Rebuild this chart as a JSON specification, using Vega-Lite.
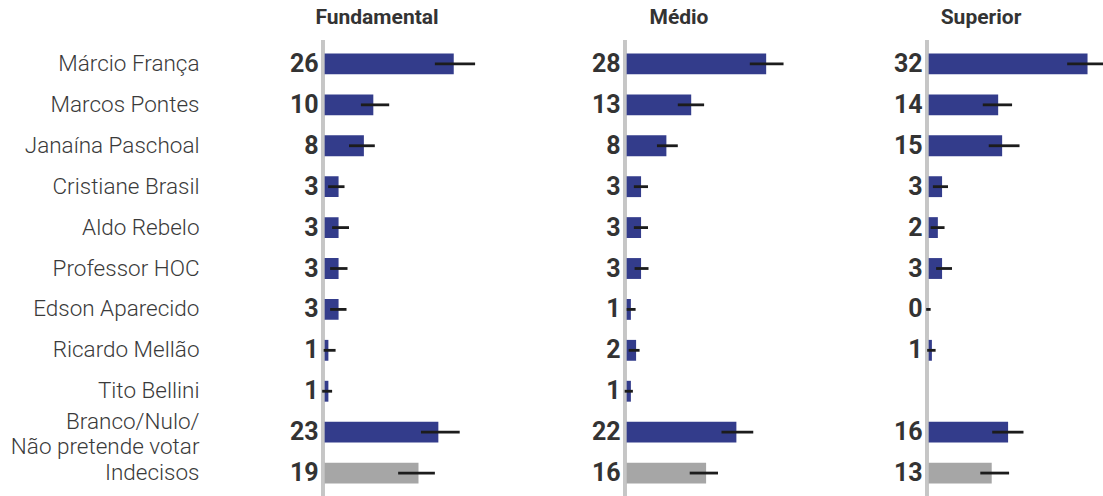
{
  "$schema": "https://vega.github.io/schema/vega-lite/v6.json",
  "padding": {"left": 10, "top": 6, "right": 0, "bottom": 0},
  "background": "white",
  "config": {"view": {"stroke": null}, "font": "Roboto"},
  "spacing": 22,
  "data": {"values": [
    {"nivel": "Fundamental", "cand": "Márcio França", "tipo": "cand", "v": 26.0, "lo": 22.2, "hi": 30.3},
    {"nivel": "Fundamental", "cand": "Marcos Pontes", "tipo": "cand", "v": 9.8, "lo": 7.3, "hi": 13.0},
    {"nivel": "Fundamental", "cand": "Janaína Paschoal", "tipo": "cand", "v": 7.9, "lo": 4.9, "hi": 10.1},
    {"nivel": "Fundamental", "cand": "Cristiane Brasil", "tipo": "cand", "v": 2.8, "lo": 0.7, "hi": 4.0},
    {"nivel": "Fundamental", "cand": "Aldo Rebelo", "tipo": "cand", "v": 2.8, "lo": 1.5, "hi": 4.9},
    {"nivel": "Fundamental", "cand": "Professor HOC", "tipo": "cand", "v": 2.8, "lo": 1.1, "hi": 4.6},
    {"nivel": "Fundamental", "cand": "Edson Aparecido", "tipo": "cand", "v": 2.8, "lo": 1.1, "hi": 4.4},
    {"nivel": "Fundamental", "cand": "Ricardo Mellão", "tipo": "cand", "v": 0.75, "lo": -0.2, "hi": 2.2},
    {"nivel": "Fundamental", "cand": "Tito Bellini", "tipo": "cand", "v": 0.75, "lo": -0.5, "hi": 1.5},
    {"nivel": "Fundamental", "cand": "Branco/Nulo/ Não pretende votar", "tipo": "cand", "v": 22.9, "lo": 19.4, "hi": 27.2},
    {"nivel": "Fundamental", "cand": "Indecisos", "tipo": "indec", "v": 18.9, "lo": 14.8, "hi": 22.2},
    {"nivel": "Médio", "cand": "Márcio França", "tipo": "cand", "v": 28.1, "lo": 24.8, "hi": 31.6},
    {"nivel": "Médio", "cand": "Marcos Pontes", "tipo": "cand", "v": 13.0, "lo": 10.3, "hi": 15.6},
    {"nivel": "Médio", "cand": "Janaína Paschoal", "tipo": "cand", "v": 8.0, "lo": 6.1, "hi": 10.3},
    {"nivel": "Médio", "cand": "Cristiane Brasil", "tipo": "cand", "v": 2.9, "lo": 1.45, "hi": 4.3},
    {"nivel": "Médio", "cand": "Aldo Rebelo", "tipo": "cand", "v": 2.9, "lo": 1.45, "hi": 4.3},
    {"nivel": "Médio", "cand": "Professor HOC", "tipo": "cand", "v": 2.9, "lo": 1.6, "hi": 4.4},
    {"nivel": "Médio", "cand": "Edson Aparecido", "tipo": "cand", "v": 0.85, "lo": 0.0, "hi": 1.8},
    {"nivel": "Médio", "cand": "Ricardo Mellão", "tipo": "cand", "v": 1.9, "lo": 0.4, "hi": 2.6},
    {"nivel": "Médio", "cand": "Tito Bellini", "tipo": "cand", "v": 0.85, "lo": -0.4, "hi": 1.25},
    {"nivel": "Médio", "cand": "Branco/Nulo/ Não pretende votar", "tipo": "cand", "v": 22.1, "lo": 19.1, "hi": 25.5},
    {"nivel": "Médio", "cand": "Indecisos", "tipo": "indec", "v": 16.0, "lo": 12.7, "hi": 18.4},
    {"nivel": "Superior", "cand": "Márcio França", "tipo": "cand", "v": 32.0, "lo": 27.9, "hi": 36.0},
    {"nivel": "Superior", "cand": "Marcos Pontes", "tipo": "cand", "v": 14.0, "lo": 10.9, "hi": 16.8},
    {"nivel": "Superior", "cand": "Janaína Paschoal", "tipo": "cand", "v": 14.8, "lo": 12.1, "hi": 18.3},
    {"nivel": "Superior", "cand": "Cristiane Brasil", "tipo": "cand", "v": 2.7, "lo": 0.85, "hi": 3.9},
    {"nivel": "Superior", "cand": "Aldo Rebelo", "tipo": "cand", "v": 1.85, "lo": 0.4, "hi": 3.2},
    {"nivel": "Superior", "cand": "Professor HOC", "tipo": "cand", "v": 2.7, "lo": 1.5, "hi": 4.7},
    {"nivel": "Superior", "cand": "Edson Aparecido", "tipo": "cand", "v": 0.0, "lo": -0.5, "hi": 0.4},
    {"nivel": "Superior", "cand": "Ricardo Mellão", "tipo": "cand", "v": 0.65, "lo": -0.3, "hi": 1.4},
    {"nivel": "Superior", "cand": "Branco/Nulo/ Não pretende votar", "tipo": "cand", "v": 16.0, "lo": 12.8, "hi": 19.1},
    {"nivel": "Superior", "cand": "Indecisos", "tipo": "indec", "v": 12.7, "lo": 10.4, "hi": 16.2}
  ]},
  "hconcat": [
    {
      "title": {"text": "Fundamental", "anchor": "middle", "dx": -41, "fontSize": 21, "font": "Roboto", "fontWeight": "bold", "color": "#333333", "offset": -6, "baseline": "alphabetic"},
      "width": 280, "height": 457,
      "transform": [{"filter": "datum.nivel == 'Fundamental'"}],
      "layer": [
        {"mark": {"type": "rule", "color": "#c6c6c6", "strokeWidth": 3},
         "encoding": {"x": {"datum": -0.35, "type": "quantitative", "scale": {"domain": [-9.4, 47], "nice": false, "zero": false}, "axis": null}}},
        {"mark": {"type": "bar"},
         "encoding": {
           "y": {"field": "cand", "type": "nominal", "scale": {"domain": ["Márcio França", "Marcos Pontes", "Janaína Paschoal", "Cristiane Brasil", "Aldo Rebelo", "Professor HOC", "Edson Aparecido", "Ricardo Mellão", "Tito Bellini", "Branco/Nulo/ Não pretende votar", "Indecisos"], "paddingInner": 0.49, "paddingOuter": 0.33},
                 "axis": {"title": null, "ticks": false, "domain": false, "labelPadding": 79, "labelFont": "Roboto", "labelFontSize": 22.5, "labelFontWeight": 300, "labelColor": "#3a3a3a", "labelLineHeight": 25, "labelLimit": 400,
                          "labelOffset": {"condition": {"test": "datum.value == 'Branco/Nulo/ Não pretende votar'", "value": -10}, "value": 0},
                          "labelExpr": "datum.value == 'Branco/Nulo/ Não pretende votar' ? ['Branco/Nulo/', 'Não pretende votar'] : datum.value"}},
           "x": {"field": "v", "type": "quantitative", "scale": {"domain": [-9.4, 47], "nice": false, "zero": false}, "axis": null},
           "x2": {"datum": 0},
           "color": {"field": "tipo", "type": "nominal", "scale": {"domain": ["cand", "indec"], "range": ["#333c8b", "#a6a6a6"]}, "legend": null}
         }},
        {"mark": {"type": "rule", "color": "#1c1c1c", "strokeWidth": 2.8},
         "encoding": {
           "y": {"field": "cand", "type": "nominal"},
           "x": {"field": "lo", "type": "quantitative"},
           "x2": {"field": "hi"}
         }},
        {"mark": {"type": "text", "align": "right", "baseline": "middle", "dx": -6, "fontSize": 25, "fontWeight": "bold", "font": "Roboto", "color": "#333333"},
         "encoding": {
           "y": {"field": "cand", "type": "nominal"},
           "x": {"datum": 0, "type": "quantitative"},
           "text": {"field": "v", "type": "quantitative", "format": ".0f"}
         }}
      ]
    },
    {
      "title": {"text": "Médio", "anchor": "middle", "dx": -41, "fontSize": 21, "font": "Roboto", "fontWeight": "bold", "color": "#333333", "offset": -6, "baseline": "alphabetic"},
      "width": 280, "height": 457,
      "transform": [{"filter": "datum.nivel == 'Médio'"}],
      "layer": [
        {"mark": {"type": "rule", "color": "#c6c6c6", "strokeWidth": 3},
         "encoding": {"x": {"datum": -0.35, "type": "quantitative", "scale": {"domain": [-9.4, 47], "nice": false, "zero": false}, "axis": null}}},
        {"mark": {"type": "bar"},
         "encoding": {
           "y": {"field": "cand", "type": "nominal", "scale": {"domain": ["Márcio França", "Marcos Pontes", "Janaína Paschoal", "Cristiane Brasil", "Aldo Rebelo", "Professor HOC", "Edson Aparecido", "Ricardo Mellão", "Tito Bellini", "Branco/Nulo/ Não pretende votar", "Indecisos"], "paddingInner": 0.49, "paddingOuter": 0.33}, "axis": null},
           "x": {"field": "v", "type": "quantitative", "scale": {"domain": [-9.4, 47], "nice": false, "zero": false}, "axis": null},
           "x2": {"datum": 0},
           "color": {"field": "tipo", "type": "nominal", "scale": {"domain": ["cand", "indec"], "range": ["#333c8b", "#a6a6a6"]}, "legend": null}
         }},
        {"mark": {"type": "rule", "color": "#1c1c1c", "strokeWidth": 2.8},
         "encoding": {
           "y": {"field": "cand", "type": "nominal"},
           "x": {"field": "lo", "type": "quantitative"},
           "x2": {"field": "hi"}
         }},
        {"mark": {"type": "text", "align": "right", "baseline": "middle", "dx": -6, "fontSize": 25, "fontWeight": "bold", "font": "Roboto", "color": "#333333"},
         "encoding": {
           "y": {"field": "cand", "type": "nominal"},
           "x": {"datum": 0, "type": "quantitative"},
           "text": {"field": "v", "type": "quantitative", "format": ".0f"}
         }}
      ]
    },
    {
      "title": {"text": "Superior", "anchor": "middle", "dx": -41, "fontSize": 21, "font": "Roboto", "fontWeight": "bold", "color": "#333333", "offset": -6, "baseline": "alphabetic"},
      "width": 280, "height": 457,
      "transform": [{"filter": "datum.nivel == 'Superior'"}],
      "layer": [
        {"mark": {"type": "rule", "color": "#c6c6c6", "strokeWidth": 3},
         "encoding": {"x": {"datum": -0.35, "type": "quantitative", "scale": {"domain": [-9.4, 47], "nice": false, "zero": false}, "axis": null}}},
        {"mark": {"type": "bar"},
         "encoding": {
           "y": {"field": "cand", "type": "nominal", "scale": {"domain": ["Márcio França", "Marcos Pontes", "Janaína Paschoal", "Cristiane Brasil", "Aldo Rebelo", "Professor HOC", "Edson Aparecido", "Ricardo Mellão", "Tito Bellini", "Branco/Nulo/ Não pretende votar", "Indecisos"], "paddingInner": 0.49, "paddingOuter": 0.33}, "axis": null},
           "x": {"field": "v", "type": "quantitative", "scale": {"domain": [-9.4, 47], "nice": false, "zero": false}, "axis": null},
           "x2": {"datum": 0},
           "color": {"field": "tipo", "type": "nominal", "scale": {"domain": ["cand", "indec"], "range": ["#333c8b", "#a6a6a6"]}, "legend": null}
         }},
        {"mark": {"type": "rule", "color": "#1c1c1c", "strokeWidth": 2.8},
         "encoding": {
           "y": {"field": "cand", "type": "nominal"},
           "x": {"field": "lo", "type": "quantitative"},
           "x2": {"field": "hi"}
         }},
        {"mark": {"type": "text", "align": "right", "baseline": "middle", "dx": -6, "fontSize": 25, "fontWeight": "bold", "font": "Roboto", "color": "#333333"},
         "encoding": {
           "y": {"field": "cand", "type": "nominal"},
           "x": {"datum": 0, "type": "quantitative"},
           "text": {"field": "v", "type": "quantitative", "format": ".0f"}
         }}
      ]
    }
  ]
}
